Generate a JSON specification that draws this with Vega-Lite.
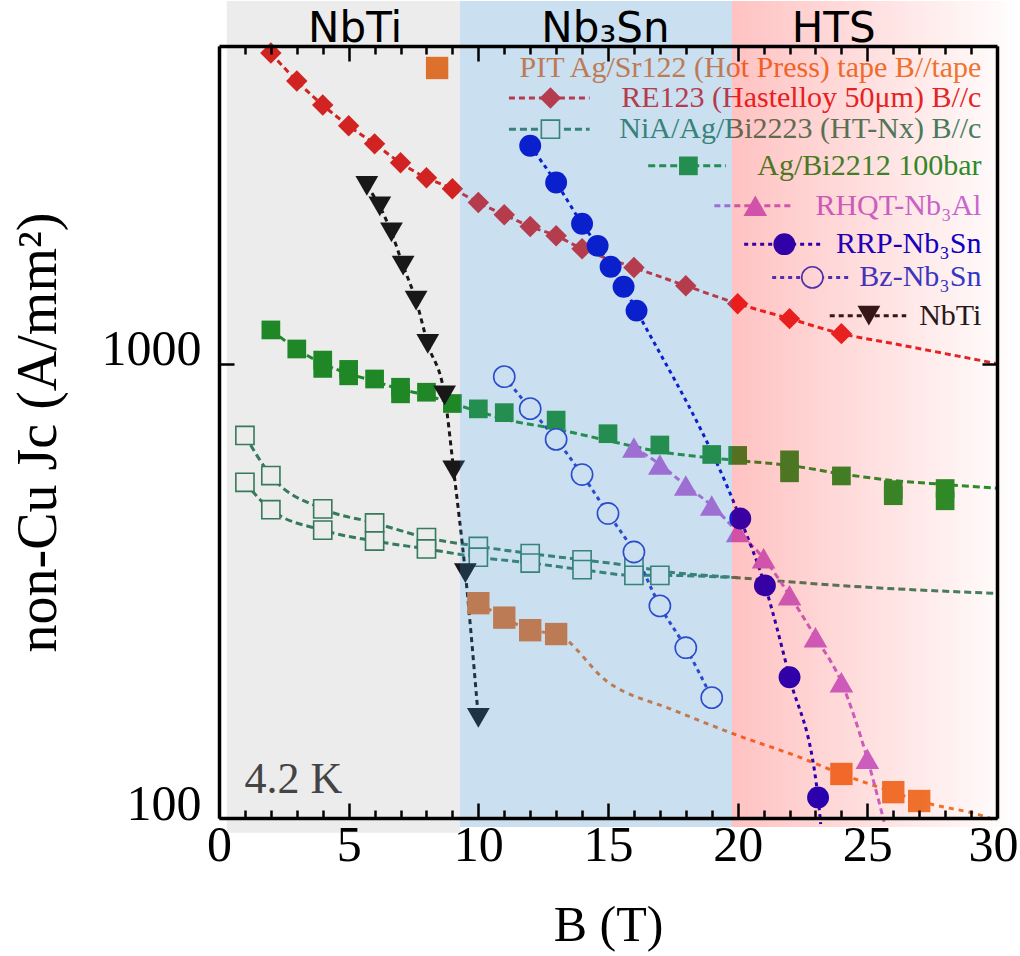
{
  "$schema": "https://vega.github.io/schema/vega-lite/v6.json",
  "autosize": {"type": "none"},
  "padding": {"left": 219, "top": 46, "right": 23, "bottom": 138},
  "width": 778,
  "height": 772,
  "background": "white",
  "config": {"view": {"stroke": null}},
  "datasets": {
    "regions": [
      {"region": "gray", "B1": 0.3, "B2": 9.29, "J1": 92.8, "J2": 6279},
      {"region": "blue", "B1": 9.29, "B2": 19.78, "J1": 95.5, "J2": 6279},
      {"region": "red", "B1": 19.78, "B2": 30.9, "J1": 95.5, "J2": 6279}
    ],
    "regionLabels": [
      {"label": "NbTi", "B": 5.25, "J": 5100},
      {"label": "Nb₃Sn", "B": 14.9, "J": 5100},
      {"label": "HTS", "B": 23.7, "J": 5100}
    ],
    "note": [{"label": "4.2 K", "B": 0.98, "J": 113.5}],
    "pts": [
      {"series": "PIT", "B": 10, "J": 297}, {"series": "PIT", "B": 11, "J": 276}, {"series": "PIT", "B": 12, "J": 259}, {"series": "PIT", "B": 13, "J": 254},
      {"series": "PIT", "B": 24, "J": 125}, {"series": "PIT", "B": 26, "J": 114}, {"series": "PIT", "B": 27, "J": 109},
      {"series": "RE123", "B": 2, "J": 4826}, {"series": "RE123", "B": 3, "J": 4188}, {"series": "RE123", "B": 4, "J": 3708}, {"series": "RE123", "B": 5, "J": 3337},
      {"series": "RE123", "B": 6, "J": 3045}, {"series": "RE123", "B": 7, "J": 2766}, {"series": "RE123", "B": 8, "J": 2564}, {"series": "RE123", "B": 9, "J": 2425},
      {"series": "RE123", "B": 10, "J": 2262}, {"series": "RE123", "B": 11, "J": 2126}, {"series": "RE123", "B": 12, "J": 2004}, {"series": "RE123", "B": 13, "J": 1911},
      {"series": "RE123", "B": 14, "J": 1789}, {"series": "RE123", "B": 16, "J": 1628}, {"series": "RE123", "B": 18, "J": 1484}, {"series": "RE123", "B": 20, "J": 1355},
      {"series": "RE123", "B": 22, "J": 1256}, {"series": "RE123", "B": 24, "J": 1164},
      {"series": "Bi2223", "B": 1, "J": 695}, {"series": "Bi2223", "B": 2, "J": 567}, {"series": "Bi2223", "B": 4, "J": 479}, {"series": "Bi2223", "B": 6, "J": 446},
      {"series": "Bi2223", "B": 8, "J": 414}, {"series": "Bi2223", "B": 10, "J": 396}, {"series": "Bi2223", "B": 12, "J": 382}, {"series": "Bi2223", "B": 14, "J": 370},
      {"series": "Bi2223", "B": 16, "J": 358},
      {"series": "Bi2223", "B": 1, "J": 548}, {"series": "Bi2223", "B": 2, "J": 477}, {"series": "Bi2223", "B": 4, "J": 430}, {"series": "Bi2223", "B": 6, "J": 407},
      {"series": "Bi2223", "B": 8, "J": 391}, {"series": "Bi2223", "B": 10, "J": 375}, {"series": "Bi2223", "B": 12, "J": 364}, {"series": "Bi2223", "B": 14, "J": 352},
      {"series": "Bi2223", "B": 16, "J": 342}, {"series": "Bi2223", "B": 17, "J": 342},
      {"series": "Bi2212", "B": 2, "J": 1186}, {"series": "Bi2212", "B": 3, "J": 1077}, {"series": "Bi2212", "B": 4, "J": 1018}, {"series": "Bi2212", "B": 4, "J": 976},
      {"series": "Bi2212", "B": 5, "J": 971}, {"series": "Bi2212", "B": 5, "J": 940}, {"series": "Bi2212", "B": 6, "J": 925}, {"series": "Bi2212", "B": 7, "J": 887},
      {"series": "Bi2212", "B": 7, "J": 858}, {"series": "Bi2212", "B": 8, "J": 865}, {"series": "Bi2212", "B": 9, "J": 817}, {"series": "Bi2212", "B": 10, "J": 795},
      {"series": "Bi2212", "B": 11, "J": 780}, {"series": "Bi2212", "B": 13, "J": 751}, {"series": "Bi2212", "B": 15, "J": 701}, {"series": "Bi2212", "B": 17, "J": 662},
      {"series": "Bi2212", "B": 19, "J": 631}, {"series": "Bi2212", "B": 20, "J": 628}, {"series": "Bi2212", "B": 22, "J": 614}, {"series": "Bi2212", "B": 22, "J": 575},
      {"series": "Bi2212", "B": 24, "J": 566}, {"series": "Bi2212", "B": 26, "J": 528}, {"series": "Bi2212", "B": 26, "J": 512}, {"series": "Bi2212", "B": 28, "J": 531},
      {"series": "Bi2212", "B": 28, "J": 499},
      {"series": "RHQT", "B": 16, "J": 654}, {"series": "RHQT", "B": 17, "J": 600}, {"series": "RHQT", "B": 18, "J": 539}, {"series": "RHQT", "B": 19, "J": 487},
      {"series": "RHQT", "B": 20, "J": 426}, {"series": "RHQT", "B": 21, "J": 373}, {"series": "RHQT", "B": 22, "J": 309}, {"series": "RHQT", "B": 23, "J": 250},
      {"series": "RHQT", "B": 24, "J": 199}, {"series": "RHQT", "B": 25, "J": 135},
      {"series": "RRP", "B": 12, "J": 3015}, {"series": "RRP", "B": 13, "J": 2503}, {"series": "RRP", "B": 14, "J": 2031}, {"series": "RRP", "B": 14.6, "J": 1816},
      {"series": "RRP", "B": 15.1, "J": 1634}, {"series": "RRP", "B": 15.6, "J": 1476}, {"series": "RRP", "B": 16.1, "J": 1308}, {"series": "RRP", "B": 20.1, "J": 456},
      {"series": "RRP", "B": 21.05, "J": 325}, {"series": "RRP", "B": 22, "J": 204}, {"series": "RRP", "B": 23.1, "J": 111},
      {"series": "Bz", "B": 11, "J": 936}, {"series": "Bz", "B": 12, "J": 796}, {"series": "Bz", "B": 13, "J": 681}, {"series": "Bz", "B": 14, "J": 570},
      {"series": "Bz", "B": 15, "J": 468}, {"series": "Bz", "B": 16, "J": 385}, {"series": "Bz", "B": 17, "J": 293}, {"series": "Bz", "B": 18, "J": 237},
      {"series": "Bz", "B": 19, "J": 184},
      {"series": "NbTi", "B": 5.7, "J": 2462}, {"series": "NbTi", "B": 6.2, "J": 2217}, {"series": "NbTi", "B": 6.65, "J": 1944}, {"series": "NbTi", "B": 7.1, "J": 1642},
      {"series": "NbTi", "B": 7.6, "J": 1376}, {"series": "NbTi", "B": 8.05, "J": 1105}, {"series": "NbTi", "B": 8.7, "J": 851}, {"series": "NbTi", "B": 9.05, "J": 582},
      {"series": "NbTi", "B": 9.5, "J": 346}, {"series": "NbTi", "B": 10, "J": 166}
    ],
    "lines": [
      {"series": "RE123", "curve": "RE123", "B": 2, "J": 4826}, {"series": "RE123", "curve": "RE123", "B": 3, "J": 4188}, {"series": "RE123", "curve": "RE123", "B": 4, "J": 3708},
      {"series": "RE123", "curve": "RE123", "B": 5, "J": 3337}, {"series": "RE123", "curve": "RE123", "B": 6, "J": 3045}, {"series": "RE123", "curve": "RE123", "B": 7, "J": 2766},
      {"series": "RE123", "curve": "RE123", "B": 8, "J": 2564}, {"series": "RE123", "curve": "RE123", "B": 9, "J": 2425}, {"series": "RE123", "curve": "RE123", "B": 10, "J": 2262},
      {"series": "RE123", "curve": "RE123", "B": 11, "J": 2126}, {"series": "RE123", "curve": "RE123", "B": 12, "J": 2004}, {"series": "RE123", "curve": "RE123", "B": 13, "J": 1911},
      {"series": "RE123", "curve": "RE123", "B": 14, "J": 1789}, {"series": "RE123", "curve": "RE123", "B": 16, "J": 1628}, {"series": "RE123", "curve": "RE123", "B": 18, "J": 1484},
      {"series": "RE123", "curve": "RE123", "B": 20, "J": 1355}, {"series": "RE123", "curve": "RE123", "B": 22, "J": 1256}, {"series": "RE123", "curve": "RE123", "B": 24, "J": 1164},
      {"series": "RE123", "curve": "RE123", "B": 26, "J": 1107}, {"series": "RE123", "curve": "RE123", "B": 28, "J": 1052}, {"series": "RE123", "curve": "RE123", "B": 30, "J": 1000},
      {"series": "Bi2212", "curve": "Bi2212", "B": 2, "J": 1186}, {"series": "Bi2212", "curve": "Bi2212", "B": 3, "J": 1077}, {"series": "Bi2212", "curve": "Bi2212", "B": 4, "J": 1000},
      {"series": "Bi2212", "curve": "Bi2212", "B": 5, "J": 950}, {"series": "Bi2212", "curve": "Bi2212", "B": 6, "J": 915}, {"series": "Bi2212", "curve": "Bi2212", "B": 7, "J": 878},
      {"series": "Bi2212", "curve": "Bi2212", "B": 8, "J": 852}, {"series": "Bi2212", "curve": "Bi2212", "B": 9, "J": 817}, {"series": "Bi2212", "curve": "Bi2212", "B": 10, "J": 785},
      {"series": "Bi2212", "curve": "Bi2212", "B": 11, "J": 755}, {"series": "Bi2212", "curve": "Bi2212", "B": 13, "J": 718}, {"series": "Bi2212", "curve": "Bi2212", "B": 15, "J": 677},
      {"series": "Bi2212", "curve": "Bi2212", "B": 17, "J": 640}, {"series": "Bi2212", "curve": "Bi2212", "B": 19, "J": 620}, {"series": "Bi2212", "curve": "Bi2212", "B": 20, "J": 612},
      {"series": "Bi2212", "curve": "Bi2212", "B": 22, "J": 597}, {"series": "Bi2212", "curve": "Bi2212", "B": 24, "J": 572}, {"series": "Bi2212", "curve": "Bi2212", "B": 26, "J": 553},
      {"series": "Bi2212", "curve": "Bi2212", "B": 28, "J": 542}, {"series": "Bi2212", "curve": "Bi2212", "B": 30, "J": 532},
      {"series": "Bi2223", "curve": "Bi2223a", "B": 1, "J": 695}, {"series": "Bi2223", "curve": "Bi2223a", "B": 2, "J": 567}, {"series": "Bi2223", "curve": "Bi2223a", "B": 4, "J": 479},
      {"series": "Bi2223", "curve": "Bi2223a", "B": 6, "J": 446}, {"series": "Bi2223", "curve": "Bi2223a", "B": 8, "J": 414}, {"series": "Bi2223", "curve": "Bi2223a", "B": 10, "J": 396},
      {"series": "Bi2223", "curve": "Bi2223a", "B": 12, "J": 382}, {"series": "Bi2223", "curve": "Bi2223a", "B": 14, "J": 370}, {"series": "Bi2223", "curve": "Bi2223a", "B": 16, "J": 358},
      {"series": "Bi2223", "curve": "Bi2223a", "B": 17, "J": 350}, {"series": "Bi2223", "curve": "Bi2223a", "B": 20, "J": 338}, {"series": "Bi2223", "curve": "Bi2223a", "B": 25, "J": 322},
      {"series": "Bi2223", "curve": "Bi2223a", "B": 30, "J": 312},
      {"series": "Bi2223", "curve": "Bi2223b", "B": 1, "J": 548}, {"series": "Bi2223", "curve": "Bi2223b", "B": 2, "J": 477}, {"series": "Bi2223", "curve": "Bi2223b", "B": 4, "J": 430},
      {"series": "Bi2223", "curve": "Bi2223b", "B": 6, "J": 407}, {"series": "Bi2223", "curve": "Bi2223b", "B": 8, "J": 391}, {"series": "Bi2223", "curve": "Bi2223b", "B": 10, "J": 375},
      {"series": "Bi2223", "curve": "Bi2223b", "B": 12, "J": 364}, {"series": "Bi2223", "curve": "Bi2223b", "B": 14, "J": 352}, {"series": "Bi2223", "curve": "Bi2223b", "B": 16, "J": 342},
      {"series": "Bi2223", "curve": "Bi2223b", "B": 17, "J": 342}, {"series": "Bi2223", "curve": "Bi2223b", "B": 20, "J": 338},
      {"series": "PIT", "curve": "PIT", "B": 10, "J": 297}, {"series": "PIT", "curve": "PIT", "B": 11, "J": 276}, {"series": "PIT", "curve": "PIT", "B": 12, "J": 259},
      {"series": "PIT", "curve": "PIT", "B": 13, "J": 254}, {"series": "PIT", "curve": "PIT", "B": 15, "J": 199}, {"series": "PIT", "curve": "PIT", "B": 17.5, "J": 173},
      {"series": "PIT", "curve": "PIT", "B": 20, "J": 152}, {"series": "PIT", "curve": "PIT", "B": 22.4, "J": 136}, {"series": "PIT", "curve": "PIT", "B": 24, "J": 125},
      {"series": "PIT", "curve": "PIT", "B": 26, "J": 114}, {"series": "PIT", "curve": "PIT", "B": 27, "J": 109}, {"series": "PIT", "curve": "PIT", "B": 29.7, "J": 100},
      {"series": "PIT", "curve": "PIT", "B": 30, "J": 98.5},
      {"series": "RHQT", "curve": "RHQT", "B": 16, "J": 654}, {"series": "RHQT", "curve": "RHQT", "B": 17, "J": 600}, {"series": "RHQT", "curve": "RHQT", "B": 18, "J": 539},
      {"series": "RHQT", "curve": "RHQT", "B": 19, "J": 487}, {"series": "RHQT", "curve": "RHQT", "B": 20, "J": 426}, {"series": "RHQT", "curve": "RHQT", "B": 21, "J": 373},
      {"series": "RHQT", "curve": "RHQT", "B": 22, "J": 309}, {"series": "RHQT", "curve": "RHQT", "B": 23, "J": 250}, {"series": "RHQT", "curve": "RHQT", "B": 24, "J": 199},
      {"series": "RHQT", "curve": "RHQT", "B": 25, "J": 135}, {"series": "RHQT", "curve": "RHQT", "B": 25.65, "J": 98},
      {"series": "RRP", "curve": "RRP", "B": 12, "J": 3015}, {"series": "RRP", "curve": "RRP", "B": 13, "J": 2503}, {"series": "RRP", "curve": "RRP", "B": 14, "J": 2031},
      {"series": "RRP", "curve": "RRP", "B": 14.6, "J": 1816}, {"series": "RRP", "curve": "RRP", "B": 15.1, "J": 1634}, {"series": "RRP", "curve": "RRP", "B": 15.6, "J": 1476},
      {"series": "RRP", "curve": "RRP", "B": 16.1, "J": 1308}, {"series": "RRP", "curve": "RRP", "B": 20.1, "J": 456}, {"series": "RRP", "curve": "RRP", "B": 21.05, "J": 325},
      {"series": "RRP", "curve": "RRP", "B": 22, "J": 204}, {"series": "RRP", "curve": "RRP", "B": 23.1, "J": 111}, {"series": "RRP", "curve": "RRP", "B": 23.2, "J": 97},
      {"series": "Bz", "curve": "Bz", "B": 11, "J": 936}, {"series": "Bz", "curve": "Bz", "B": 12, "J": 796}, {"series": "Bz", "curve": "Bz", "B": 13, "J": 681},
      {"series": "Bz", "curve": "Bz", "B": 14, "J": 570}, {"series": "Bz", "curve": "Bz", "B": 15, "J": 468}, {"series": "Bz", "curve": "Bz", "B": 16, "J": 385},
      {"series": "Bz", "curve": "Bz", "B": 17, "J": 293}, {"series": "Bz", "curve": "Bz", "B": 18, "J": 237}, {"series": "Bz", "curve": "Bz", "B": 19, "J": 184},
      {"series": "NbTi", "curve": "NbTi", "B": 5.7, "J": 2462}, {"series": "NbTi", "curve": "NbTi", "B": 6.2, "J": 2217}, {"series": "NbTi", "curve": "NbTi", "B": 6.65, "J": 1944},
      {"series": "NbTi", "curve": "NbTi", "B": 7.1, "J": 1642}, {"series": "NbTi", "curve": "NbTi", "B": 7.6, "J": 1376}, {"series": "NbTi", "curve": "NbTi", "B": 8.05, "J": 1105},
      {"series": "NbTi", "curve": "NbTi", "B": 8.7, "J": 851}, {"series": "NbTi", "curve": "NbTi", "B": 9.05, "J": 582}, {"series": "NbTi", "curve": "NbTi", "B": 9.5, "J": 346},
      {"series": "NbTi", "curve": "NbTi", "B": 10, "J": 166}
    ],
    "leg": [
      {"series": "PIT", "label": "PIT Ag/Sr122 (Hot Press) tape B//tape", "B": 8.41, "J": 4473, "B1": null, "B2": null},
      {"series": "RE123", "label": "RE123 (Hastelloy 50μm) B//c", "B": 12.78, "J": 3843, "B1": 11.18, "B2": 14.29},
      {"series": "Bi2223", "label": "NiA/Ag/Bi2223 (HT-Nx) B//c", "B": 12.78, "J": 3280, "B1": 11.18, "B2": 14.29},
      {"series": "Bi2212", "label": "Ag/Bi2212 100bar", "B": 18.1, "J": 2724, "B1": 16.55, "B2": 19.55},
      {"series": "RHQT", "label": "RHQT-Nb₃Al", "B": 20.68, "J": 2225, "B1": 19.1, "B2": 22.1},
      {"series": "RRP", "label": "RRP-Nb₃Sn", "B": 21.8, "J": 1832, "B1": 20.25, "B2": 23.25},
      {"series": "Bz", "label": "Bz-Nb₃Sn", "B": 22.88, "J": 1548, "B1": 21.33, "B2": 24.34},
      {"series": "NbTi", "label": "NbTi", "B": 25.06, "J": 1275, "B1": 23.55, "B2": 26.5}
    ]
  },
  "resolve": {"axis": {"x": "independent", "y": "independent"}},
  "layer": [
    {
      "data": {"name": "lines"},
      "mark": {"type": "line", "strokeWidth": 3, "interpolate": "monotone"},
      "encoding": {
        "x": {"field": "B", "type": "quantitative", "scale": {"domain": [0, 30], "nice": false, "zero": false},
          "axis": {"orient": "top", "values": [0,1,2,3,4,5,6,7,8,9,10,11,12,13,14,15,16,17,18,19,20,21,22,23,24,25,26,27,28,29,30], "labels": false,
            "tickSize": {"condition": {"test": "datum.value % 5 === 0", "value": -15}, "value": -8},
            "tickWidth": 2.5, "tickColor": "black", "domainColor": "black", "domainWidth": 3.5, "grid": false, "title": null, "zindex": 1}},
        "y": {"field": "J", "type": "quantitative", "scale": {"type": "log", "domain": [100, 5000], "nice": false},
          "axis": {"orient": "right", "values": [100, 1000], "labels": false, "tickSize": -15, "tickWidth": 2.5, "tickColor": "black",
            "domainColor": "black", "domainWidth": 3.5, "grid": false, "title": null, "zindex": 1}},
        "detail": {"field": "curve"},
        "color": {"field": "series", "type": "nominal", "legend": null,
          "scale": {"domain": ["PIT","RE123","Bi2223","Bi2212","RHQT","RRP","Bz","NbTi"],
            "range": ["#ee7a30","#e32626","#3a8462","#22922a","#c46ad8","#0000d0","#2a3ad0","#1a1a1a"]}},
        "strokeDash": {"field": "series", "type": "nominal", "legend": null,
          "scale": {"domain": ["PIT","RE123","Bi2223","Bi2212","RHQT","RRP","Bz","NbTi"],
            "range": [[5,5],[6,4],[7,4],[7,4],[6,4],[4,4],[4,4],[5,4]]}}
      }
    },
    {
      "data": {"name": "pts"},
      "mark": {"type": "point", "filled": true, "opacity": 1},
      "encoding": {
        "x": {"field": "B", "type": "quantitative", "scale": {"domain": [0, 30], "nice": false, "zero": false},
          "axis": {"orient": "bottom", "values": [0,1,2,3,4,5,6,7,8,9,10,11,12,13,14,15,16,17,18,19,20,21,22,23,24,25,26,27,28,29,30],
            "labelExpr": "datum.value % 5 === 0 ? datum.label : ''",
            "tickSize": {"condition": {"test": "datum.value % 5 === 0", "value": -15}, "value": -8},
            "tickWidth": 2.5, "tickColor": "black", "domainColor": "black", "domainWidth": 3.5, "grid": false,
            "labelFont": "Liberation Serif", "labelFontSize": 50, "labelColor": "black", "labelPadding": 17,
            "labelOffset": {"condition": {"test": "datum.value === 30", "value": -4}, "value": 0},
            "labelFlush": false, "labelOverlap": false, "labelBound": false,
            "title": "B (T)", "titleFont": "Liberation Serif", "titleFontSize": 50, "titleFontWeight": "normal", "titleColor": "black",
            "titlePadding": 23, "zindex": 1}},
        "y": {"field": "J", "type": "quantitative", "scale": {"type": "log", "domain": [100, 5000], "nice": false},
          "axis": {"orient": "left", "values": [100, 1000], "format": "d", "tickSize": -15, "tickWidth": 2.5, "tickColor": "black",
            "domainColor": "black", "domainWidth": 3.5, "grid": false,
            "labelFont": "Liberation Serif", "labelFontSize": 50, "labelColor": "black", "labelPadding": 33, "labelOffset": -14,
            "labelFlush": false, "labelOverlap": false,
            "title": "non-Cu Jc (A/mm²)", "titleFont": "Liberation Serif", "titleFontSize": 56, "titleFontWeight": "normal", "titleColor": "black",
            "titlePadding": 34, "zindex": 1}},
        "fill": {"field": "series", "type": "nominal", "legend": null,
          "scale": {"domain": ["PIT","RE123","Bi2223","Bi2212","RHQT","RRP","Bz","NbTi"],
            "range": ["#ee7a30","#e32626","white","#22922a","#c46ad8","#0000d0","white","#1a1a1a"]}},
        "stroke": {"field": "series", "type": "nominal", "legend": null,
          "scale": {"domain": ["PIT","RE123","Bi2223","Bi2212","RHQT","RRP","Bz","NbTi"],
            "range": ["#ee7a30","#e32626","#3a8462","#22922a","#c46ad8","#0000d0","#2a3ad0","#1a1a1a"]}},
        "strokeWidth": {"condition": {"test": "datum.series === 'Bi2223' || datum.series === 'Bz'", "value": 1.6}, "value": 0},
        "shape": {"field": "series", "type": "nominal", "legend": null,
          "scale": {"domain": ["PIT","RE123","Bi2223","Bi2212","RHQT","RRP","Bz","NbTi"],
            "range": ["square","diamond","square","square","triangle-up","circle","circle","triangle-down"]}},
        "size": {"condition": [
            {"test": "datum.series === 'PIT'", "value": 500},
            {"test": "datum.series === 'RE123'", "value": 460},
            {"test": "datum.series === 'Bi2223'", "value": 330},
            {"test": "datum.series === 'Bi2212'", "value": 350},
            {"test": "datum.series === 'RHQT'", "value": 560},
            {"test": "datum.series === 'RRP'", "value": 480},
            {"test": "datum.series === 'Bz'", "value": 450}
          ], "value": 520}
      }
    },
    {
      "data": {"name": "leg"},
      "mark": {"type": "rule", "strokeWidth": 3},
      "encoding": {
        "x": {"field": "B1", "type": "quantitative", "scale": {"domain": [0, 30], "nice": false, "zero": false}, "axis": null},
        "x2": {"field": "B2"},
        "y": {"field": "J", "type": "quantitative", "scale": {"type": "log", "domain": [100, 5000], "nice": false}, "axis": null},
        "color": {"field": "series", "type": "nominal", "legend": null,
          "scale": {"domain": ["PIT","RE123","Bi2223","Bi2212","RHQT","RRP","Bz","NbTi"],
            "range": ["#ee7a30","#e32626","#3a8462","#22922a","#c46ad8","#0000d0","#2a3ad0","#1a1a1a"]}},
        "strokeDash": {"field": "series", "type": "nominal", "legend": null,
          "scale": {"domain": ["PIT","RE123","Bi2223","Bi2212","RHQT","RRP","Bz","NbTi"],
            "range": [[5,5],[6,4],[7,4],[7,4],[6,4],[4,4],[4,4],[5,4]]}}
      }
    },
    {
      "data": {"name": "leg"},
      "mark": {"type": "point", "filled": true, "opacity": 1},
      "encoding": {
        "x": {"field": "B", "type": "quantitative", "scale": {"domain": [0, 30], "nice": false, "zero": false}, "axis": null},
        "y": {"field": "J", "type": "quantitative", "scale": {"type": "log", "domain": [100, 5000], "nice": false}, "axis": null},
        "fill": {"field": "series", "type": "nominal", "legend": null,
          "scale": {"domain": ["PIT","RE123","Bi2223","Bi2212","RHQT","RRP","Bz","NbTi"],
            "range": ["#ee7a30","#e32626","white","#22922a","#c46ad8","#0000d0","white","#1a1a1a"]}},
        "stroke": {"field": "series", "type": "nominal", "legend": null,
          "scale": {"domain": ["PIT","RE123","Bi2223","Bi2212","RHQT","RRP","Bz","NbTi"],
            "range": ["#ee7a30","#e32626","#3a8462","#22922a","#c46ad8","#0000d0","#2a3ad0","#1a1a1a"]}},
        "strokeWidth": {"condition": {"test": "datum.series === 'Bi2223' || datum.series === 'Bz'", "value": 1.6}, "value": 0},
        "shape": {"field": "series", "type": "nominal", "legend": null,
          "scale": {"domain": ["PIT","RE123","Bi2223","Bi2212","RHQT","RRP","Bz","NbTi"],
            "range": ["square","diamond","square","square","triangle-up","circle","circle","triangle-down"]}},
        "size": {"condition": [
            {"test": "datum.series === 'PIT'", "value": 500},
            {"test": "datum.series === 'RE123'", "value": 460},
            {"test": "datum.series === 'Bi2223'", "value": 330},
            {"test": "datum.series === 'Bi2212'", "value": 350},
            {"test": "datum.series === 'RHQT'", "value": 560},
            {"test": "datum.series === 'RRP'", "value": 480},
            {"test": "datum.series === 'Bz'", "value": 450}
          ], "value": 520}
      }
    },
    {
      "data": {"name": "leg"},
      "mark": {"type": "text", "align": "right", "baseline": "middle", "font": "Liberation Serif", "fontSize": 30},
      "encoding": {
        "x": {"datum": 29.4, "type": "quantitative", "scale": {"domain": [0, 30], "nice": false, "zero": false}, "axis": null},
        "y": {"field": "J", "type": "quantitative", "scale": {"type": "log", "domain": [100, 5000], "nice": false}, "axis": null},
        "text": {"field": "label"},
        "color": {"field": "series", "type": "nominal", "legend": null,
          "scale": {"domain": ["PIT","RE123","Bi2223","Bi2212","RHQT","RRP","Bz","NbTi"],
            "range": ["#ee7a30","#e32626","#3a8462","#22922a","#c46ad8","#0000d0","#2a3ad0","#1a1a1a"]}}
      }
    },
    {
      "data": {"name": "regions"},
      "transform": [{"filter": "datum.region === 'gray'"}],
      "mark": {"type": "rect", "color": "black", "opacity": 0.075},
      "encoding": {
        "x": {"field": "B1", "type": "quantitative", "scale": {"domain": [0, 30], "nice": false, "zero": false}, "axis": null},
        "x2": {"field": "B2"},
        "y": {"field": "J1", "type": "quantitative", "scale": {"type": "log", "domain": [100, 5000], "nice": false}, "axis": null},
        "y2": {"field": "J2"}
      }
    },
    {
      "data": {"name": "regions"},
      "transform": [{"filter": "datum.region === 'blue'"}],
      "mark": {"type": "rect", "color": "rgb(43,127,195)", "opacity": 0.25},
      "encoding": {
        "x": {"field": "B1", "type": "quantitative", "scale": {"domain": [0, 30], "nice": false, "zero": false}, "axis": null},
        "x2": {"field": "B2"},
        "y": {"field": "J1", "type": "quantitative", "scale": {"type": "log", "domain": [100, 5000], "nice": false}, "axis": null},
        "y2": {"field": "J2"}
      }
    },
    {
      "data": {"name": "regions"},
      "transform": [{"filter": "datum.region === 'red'"}],
      "mark": {"type": "rect", "opacity": 1,
        "color": {"gradient": "linear", "x1": 0, "y1": 0, "x2": 1, "y2": 0,
          "stops": [{"offset": 0, "color": "rgba(255,0,0,0.24)"}, {"offset": 1, "color": "rgba(255,0,0,0)"}]}},
      "encoding": {
        "x": {"field": "B1", "type": "quantitative", "scale": {"domain": [0, 30], "nice": false, "zero": false}, "axis": null},
        "x2": {"field": "B2"},
        "y": {"field": "J1", "type": "quantitative", "scale": {"type": "log", "domain": [100, 5000], "nice": false}, "axis": null},
        "y2": {"field": "J2"}
      }
    },
    {
      "data": {"name": "regionLabels"},
      "mark": {"type": "text", "align": "center", "baseline": "alphabetic", "font": "DejaVu Sans", "fontSize": 42, "color": "black"},
      "encoding": {
        "x": {"field": "B", "type": "quantitative", "scale": {"domain": [0, 30], "nice": false, "zero": false}, "axis": null},
        "y": {"field": "J", "type": "quantitative", "scale": {"type": "log", "domain": [100, 5000], "nice": false}, "axis": null},
        "text": {"field": "label"}
      }
    },
    {
      "data": {"name": "note"},
      "mark": {"type": "text", "align": "left", "baseline": "alphabetic", "font": "Liberation Serif", "fontSize": 44, "color": "#444444"},
      "encoding": {
        "x": {"field": "B", "type": "quantitative", "scale": {"domain": [0, 30], "nice": false, "zero": false}, "axis": null},
        "y": {"field": "J", "type": "quantitative", "scale": {"type": "log", "domain": [100, 5000], "nice": false}, "axis": null},
        "text": {"field": "label"}
      }
    }
  ]
}
